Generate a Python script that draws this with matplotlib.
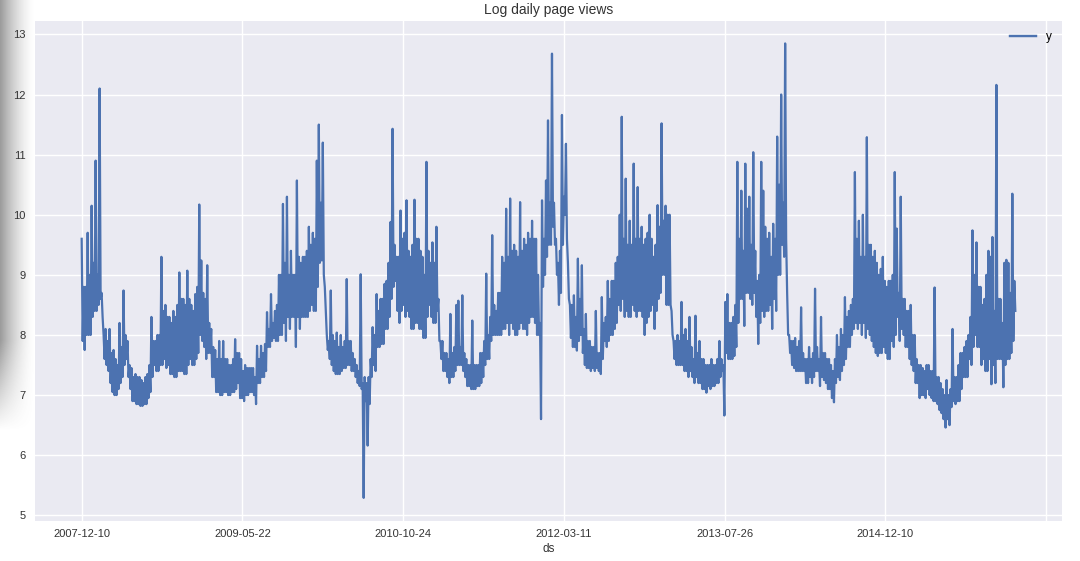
import numpy as np
import matplotlib
matplotlib.use("Agg")
import matplotlib.pyplot as plt

# ---- data: log daily page views ----
# upper and lower edge of the daily band, one pair per ~6 rows, left to right
top_1 = [9.6, 8.8, 8.8, 9.7, 9.0, 10.15, 9.2, 10.9, 9.0, 12.1, 8.7, 8.0, 8.1, 7.9, 8.1, 7.7,
         7.75, 7.6, 7.5, 8.2, 7.8, 8.74, 8.0, 7.9, 7.5, 7.45, 7.3, 7.35, 7.3, 7.3, 7.25, 7.2,
         7.3, 7.35, 7.5, 8.3, 7.9, 7.9, 8.0, 8.0, 9.3, 8.4, 8.5, 8.3, 8.3, 8.2, 8.4, 8.3,
         8.5, 9.04, 8.6, 8.6, 8.5, 9.07, 8.6, 8.5, 8.4, 8.68, 8.8, 10.17, 9.24, 8.7, 8.6, 9.16,
         8.2, 8.1, 7.8, 7.75, 7.6, 7.9, 7.6, 7.9, 7.6, 7.6, 7.5, 7.5, 7.6, 7.93, 7.7, 7.7]
bottom_1 = [7.9, 7.75, 8.0, 8.0, 8.0, 8.3, 8.4, 8.4, 8.5, 8.6, 8.3, 7.6, 7.5, 7.4, 7.2, 7.05,
            7.0, 7.0, 7.1, 7.2, 7.3, 7.5, 7.6, 7.3, 7.1, 6.9, 6.9, 6.85, 6.85, 6.82, 6.82, 6.85,
            6.85, 6.95, 7.05, 7.3, 7.5, 7.4, 7.4, 7.5, 7.5, 7.6, 7.45, 7.5, 7.35, 7.35, 7.3, 7.3,
            7.4, 7.4, 7.4, 7.35, 7.35, 7.5, 7.6, 7.5, 7.5, 7.6, 7.7, 8.0, 7.9, 7.8, 7.6, 7.7,
            7.7, 7.3, 7.3, 7.05, 7.05, 7.0, 7.0, 7.05, 7.05, 7.0, 7.0, 7.05, 7.05, 7.1, 7.2, 6.95]

top_2 = [7.6, 7.4, 7.5, 7.45, 7.45, 7.45, 7.45, 7.3, 7.82, 7.6, 7.82, 7.7, 7.85, 8.38, 8.1,
         8.68, 8.2, 8.4, 8.5, 9.0, 9.0, 10.18, 9.2, 10.3, 9.0, 9.4, 9.0, 9.0, 10.57, 9.3, 9.2,
         9.3, 9.3, 9.4, 9.8, 9.5, 9.7, 9.6, 10.9, 11.5, 10.2, 11.2, 8.8, 8.0, 7.9, 8.74, 8.0,
         7.9, 8.04, 7.8, 8.0, 7.8, 7.9, 8.93, 7.9, 7.9, 7.7, 7.6, 7.5, 7.4, 9.01, 7.2, 7.3,
         7.2, 7.3, 7.6, 8.13, 8.0, 8.68, 8.4, 8.6, 8.6, 8.85, 8.9, 9.2, 9.88, 11.43, 9.5,
         9.3, 9.3, 10.07, 9.6, 9.7]
bottom_2 = [6.95, 6.9, 7.0, 7.0, 7.05, 7.05, 7.0, 6.85, 7.2, 7.2, 7.3, 7.3, 7.4, 7.8, 7.8,
            7.9, 7.95, 7.9, 7.9, 8.0, 8.0, 8.2, 7.9, 8.3, 8.1, 8.3, 8.3, 7.8, 8.3, 8.1, 8.3,
            8.3, 8.3, 8.3, 8.4, 8.5, 8.4, 8.4, 8.8, 9.2, 9.24, 9.0, 8.4, 7.75, 7.6, 7.5, 7.4,
            7.35, 7.35, 7.35, 7.4, 7.45, 7.45, 7.5, 7.5, 7.4, 7.4, 7.3, 7.2, 7.15, 7.1, 5.29, 6.9,
            6.16, 6.85, 7.3, 7.5, 7.4, 7.8, 7.8, 7.85, 7.85, 8.1, 8.1, 8.3, 8.6, 8.8, 8.9,
            8.4, 8.2, 8.4, 8.5, 8.3]

top_3 = [10.24, 9.4, 9.3, 9.5, 10.25, 9.6, 9.6, 9.4, 9.3, 9.0, 10.88, 9.4, 9.2, 9.54, 9.2,
         9.8, 8.6, 7.9, 7.9, 7.7, 7.7, 7.6, 8.35, 7.7, 7.8, 8.5, 8.57, 7.8, 8.66, 7.7, 7.6, 7.5,
         7.5, 8.24, 7.5, 7.5, 7.5, 7.7, 7.7, 7.9, 9.02, 8.0, 8.3, 9.66, 8.5, 8.4, 8.7, 8.7, 9.3,
         9.2, 10.1, 9.3, 10.27, 9.4, 9.5, 9.4, 9.3, 10.21, 9.4, 9.6, 9.5, 9.7, 9.6, 9.9, 9.6,
         9.6, 9.0, 8.2, 10.24, 9.6, 10.57, 11.57, 10.2, 12.68, 10.2, 9.6, 9.2, 9.4, 11.66, 10.3]
bottom_3 = [8.4, 8.3, 8.1, 8.1, 8.2, 8.2, 8.1, 8.1, 7.95, 7.95, 8.3, 8.5, 8.3, 8.2, 8.2,
            8.4, 7.9, 7.6, 7.4, 7.4, 7.3, 7.2, 7.3, 7.3, 7.4, 7.5, 7.5, 7.5, 7.4, 7.3, 7.15, 7.15,
            7.1, 7.1, 7.1, 7.15, 7.15, 7.2, 7.3, 7.5, 7.6, 7.6, 7.9, 8.0, 8.0, 8.0, 8.0, 8.0, 8.1,
            8.1, 8.2, 8.0, 8.2, 8.1, 8.0, 8.0, 8.1, 8.2, 8.1, 8.1, 8.0, 8.2, 8.3, 8.3, 8.2,
            8.0, 8.0, 6.6, 8.8, 9.0, 9.3, 9.5, 9.5, 9.8, 9.5, 9.0, 8.5, 8.7, 9.5, 10.0]

top_4 = [11.18, 9.2, 8.5, 8.5, 8.66, 8.3, 9.27, 8.6, 9.16, 8.1, 8.35, 7.9, 7.9, 7.8, 7.8,
         8.4, 7.7, 7.7, 8.63, 8.2, 8.3, 8.9, 8.6, 8.9, 8.9, 9.2, 9.3, 10.0, 11.63, 9.6, 10.6,
         9.5, 9.9, 9.5, 10.85, 9.6, 10.46, 9.6, 9.8, 9.5, 9.6, 9.7, 10.0, 9.6, 9.3, 9.5, 10.16,
         9.8, 11.52, 9.9, 10.15, 10.0, 10.0, 8.4, 7.9, 7.9, 8.0, 7.9, 8.55, 8.0, 8.1, 7.9, 8.3,
         7.8, 7.6, 8.32, 7.7, 7.9, 7.6, 7.6, 7.5, 7.5, 7.5, 7.6, 7.5, 7.5, 7.6, 7.9, 7.6, 7.5]
bottom_4 = [9.6, 8.6, 7.95, 7.8, 7.8, 7.74, 7.9, 8.0, 7.7, 7.5, 7.45, 7.45, 7.4, 7.45, 7.4,
            7.45, 7.4, 7.35, 7.6, 7.9, 7.8, 7.9, 8.0, 8.0, 8.1, 8.2, 8.5, 8.4, 8.6, 8.3, 8.4,
            8.3, 8.3, 8.5, 8.4, 8.3, 8.4, 8.4, 8.3, 8.0, 8.2, 8.3, 8.4, 8.5, 8.1, 8.4, 8.6,
            8.7, 9.0, 9.0, 8.5, 8.5, 8.5, 8.0, 7.6, 7.5, 7.5, 7.5, 7.5, 7.4, 7.4, 7.3, 7.4,
            7.3, 7.2, 7.3, 7.2, 7.2, 7.1, 7.1, 7.04, 7.15, 7.1, 7.15, 7.15, 7.2, 7.2, 7.3, 7.4, 6.66]

top_5 = [8.55, 8.68, 8.2, 8.2, 8.3, 8.5, 10.88, 9.6, 10.4, 9.4, 10.85, 10.1, 10.3, 9.5, 11.04,
         9.4, 8.9, 9.0, 10.88, 10.4, 9.8, 9.6, 9.7, 9.3, 9.85, 9.6, 11.3, 10.5, 12.0, 10.2, 12.85,
         8.7, 8.0, 7.9, 7.9, 7.95, 7.8, 7.9, 8.46, 7.7, 7.6, 7.6, 7.8, 7.6, 7.7, 8.77, 7.8,
         7.6, 8.3, 7.7, 7.7, 7.6, 7.6, 7.5, 7.4, 7.6, 8.0, 7.8, 8.1, 8.0, 8.63, 8.3, 8.4,
         8.5, 8.6, 10.71, 9.6, 9.9, 9.3, 10.0, 9.3, 11.29, 9.5, 9.5, 9.3, 9.4, 9.2, 9.0, 9.1, 9.3]
bottom_5 = [7.7, 7.6, 7.6, 7.6, 7.65, 7.8, 8.2, 8.6, 8.6, 8.15, 8.7, 8.7, 8.6, 8.5, 8.7,
            8.3, 7.85, 8.2, 8.4, 8.3, 8.4, 8.4, 8.5, 8.1, 8.6, 8.4, 9.0, 9.0, 9.5, 9.3, 9.6,
            8.0, 7.7, 7.5, 7.45, 7.4, 7.4, 7.4, 7.4, 7.4, 7.2, 7.2, 7.3, 7.2, 7.3, 7.4, 7.4,
            7.15, 7.3, 7.25, 7.2, 7.1, 7.1, 6.95, 6.88, 7.2, 7.3, 7.25, 7.4, 7.5, 7.6, 7.8, 7.8,
            8.0, 8.1, 8.2, 8.1, 8.2, 8.0, 8.2, 7.95, 8.1, 8.0, 7.9, 7.8, 7.7, 7.65, 7.7, 7.7, 7.8]

top_6 = [8.9, 8.8, 8.9, 8.9, 9.0, 10.71, 9.77, 8.7, 10.3, 8.6, 8.6, 8.4, 8.4, 8.5, 8.0, 8.0,
         7.6, 7.5, 7.5, 7.45, 7.4, 7.5, 7.5, 7.4, 7.4, 8.79, 7.3, 7.3, 7.2, 7.1, 7.0, 7.25,
         7.0, 7.1, 8.1, 7.3, 7.3, 7.5, 7.7, 7.7, 7.8, 7.9, 8.0, 8.3, 9.74, 9.0, 9.54, 8.8, 8.8,
         8.5, 8.6, 9.0, 9.4, 9.3, 9.63, 8.4, 12.16, 8.6, 8.6, 8.2, 9.2, 9.25, 9.2, 8.7, 10.35, 8.9]
bottom_6 = [7.7, 7.6, 7.6, 7.9, 7.8, 8.0, 8.3, 7.9, 8.1, 8.0, 7.8, 7.8, 7.6, 7.5, 7.4, 7.2,
            7.2, 6.95, 7.0, 7.0, 6.95, 7.1, 7.0, 6.95, 6.9, 6.9, 6.85, 6.75, 6.7, 6.6, 6.46, 6.6,
            6.5, 6.8, 6.9, 6.85, 6.9, 6.9, 7.1, 7.3, 7.3, 7.3, 7.6, 7.5, 7.8, 8.0, 7.8, 7.8, 7.5,
            7.6, 7.4, 7.4, 7.6, 7.18, 7.5, 7.2, 7.6, 7.6, 7.6, 7.13, 7.5, 7.6, 7.6, 7.7, 7.9, 8.4]

n_rows = 2905  # number of daily rows in the ds column
tick_rows = [0, 500, 1000, 1500, 2000, 2500, 3000]
tick_labels = ["2007-12-10", "2009-05-22", "2010-10-24", "2012-03-11",
               "2013-07-26", "2014-12-10", ""]

top = np.array(top_1 + top_2 + top_3 + top_4 + top_5 + top_6)
bottom = np.array(bottom_1 + bottom_2 + bottom_3 + bottom_4 + bottom_5 + bottom_6)
y = np.column_stack([top, bottom]).ravel()
rows = np.linspace(0, n_rows - 1, len(y))

# ---- figure ----
plt.rcParams["font.family"] = ["Liberation Sans", "DejaVu Sans"]
fig = plt.figure(figsize=(10.8, 5.61), dpi=100)
fig.patch.set_facecolor("white")

# screenshot shadow on the left edge
sh = fig.add_axes([0, 0, 0.033, 1])
W, H = 40, 561
xx = np.linspace(0, 1, W)[None, :]
yy = np.arange(H)[:, None]
vert = np.clip((430 - yy) / 90.0, 0, 1)
alpha = 0.6 * (1 - xx) ** 1.6 * vert
rgba = np.zeros((H, W, 4))
rgba[..., :3] = 0.35
rgba[..., 3] = alpha
sh.imshow(rgba, aspect="auto", extent=[0, 1, 0, 1])
sh.axis("off")

ax = fig.add_axes([35 / 1080, 1 - 520.6 / 561, (1062 - 35) / 1080, (520.6 - 20.7) / 561])
ax.set_facecolor("#EAEAF2")
for s in ax.spines.values():
    s.set_visible(False)
ax.grid(True, color="white", linewidth=1.0)
ax.set_axisbelow(True)

ax.plot(rows, y, color="#4C72B0", linewidth=1.6, label="y")

ax.set_xticks(tick_rows)
ax.set_xticklabels(tick_labels)
ax.set_yticks([5, 6, 7, 8, 9, 10, 11, 12, 13])
ax.tick_params(axis="both", length=0, labelsize=8, colors="#333333")
ax.tick_params(axis="y", pad=7)
ax.tick_params(axis="x", pad=6)
ax.set_xlabel("ds", fontsize=8.5, color="#333333", labelpad=3)
ax.set_title("Log daily page views", fontsize=10, color="#333333", pad=5)
leg = ax.legend(loc="upper right", frameon=False, fontsize=8.5, handlelength=2.2)
for h in leg.get_lines():
    h.set_linewidth(1.75)

fig.savefig("out.png", dpi=100, facecolor="white")
